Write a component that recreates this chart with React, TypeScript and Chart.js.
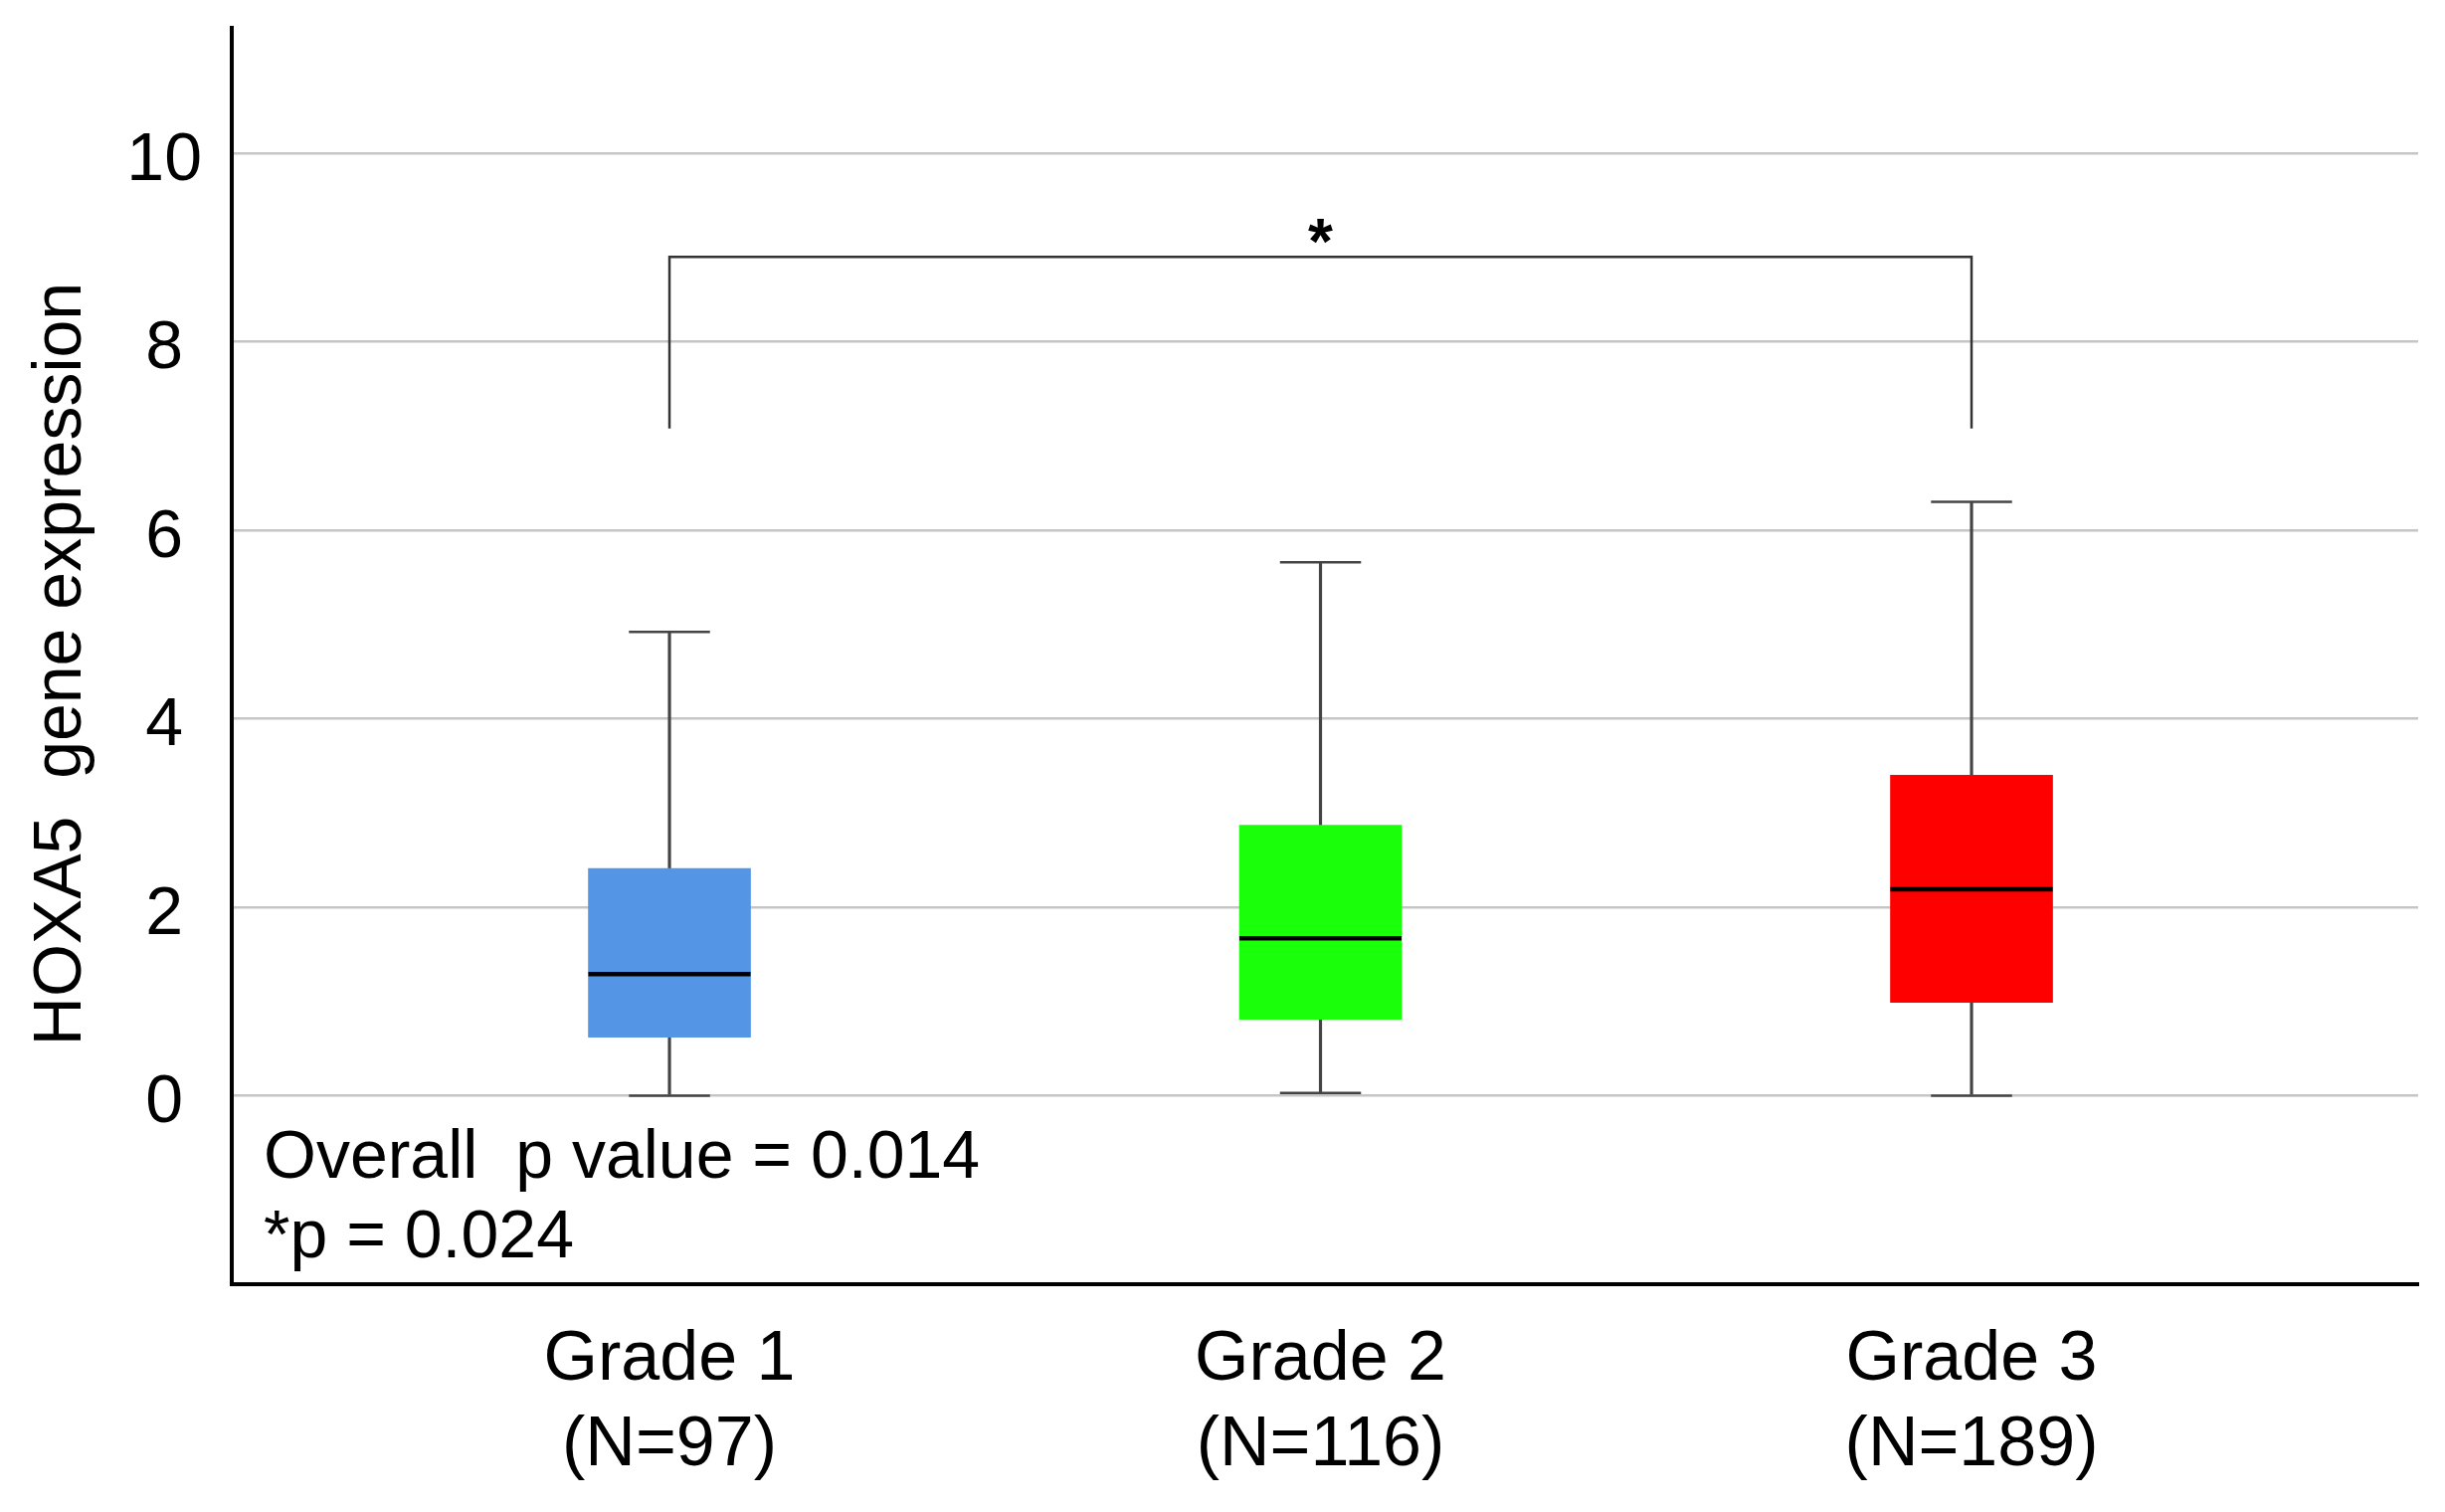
import React, { useEffect, useRef } from "react";
import { Chart, registerables } from "chart.js";

Chart.register(...registerables);

// ---- data ----
const categories = ["Grade 1", "Grade 2", "Grade 3"];
const sampleSizes = ["(N=97)", "(N=116)", "(N=189)"];
const positions = [1, 2, 3];
const mins = [0, 0.03, 0];
const q1s = [0.62, 0.81, 0.99];
const medians = [1.29, 1.67, 2.19];
const q3s = [2.41, 2.87, 3.4];
const maxs = [4.92, 5.66, 6.3];
const boxColors = ["#5595E5", "#1AFF0A", "#FF0000"];
const yTicks = [0, 2, 4, 6, 8, 10];
const bracket = { from: 1, to: 3, top: 8.9, bottom: 7.08, mark: "*" };
const annotationLines = ["Overall  p value = 0.014", "*p = 0.024"];
const yTitle = "HOXA5  gene expression";

const FONT = "'Liberation Sans', Arial, sans-serif";
const BOX_W = 163;

const extrasPlugin = {
  id: "boxExtras",
  afterDatasetsDraw(chart: any) {
    const { ctx, chartArea } = chart;
    const x = chart.scales.x;
    const y = chart.scales.y;
    ctx.save();
    positions.forEach((pos, i) => {
      const cx = x.getPixelForValue(pos);
      const half = BOX_W / 2;
      ctx.strokeStyle = "#444444";
      ctx.lineWidth = 2.5;
      [mins[i], maxs[i]].forEach((v) => {
        const py = y.getPixelForValue(v);
        ctx.beginPath();
        ctx.moveTo(cx - half / 2, py);
        ctx.lineTo(cx + half / 2, py);
        ctx.stroke();
      });
      ctx.strokeStyle = "#000000";
      ctx.lineWidth = 4.5;
      const my = y.getPixelForValue(medians[i]);
      ctx.beginPath();
      ctx.moveTo(cx - half, my);
      ctx.lineTo(cx + half, my);
      ctx.stroke();
    });

    // significance bracket
    const bx1 = x.getPixelForValue(bracket.from);
    const bx2 = x.getPixelForValue(bracket.to);
    const byTop = y.getPixelForValue(bracket.top);
    const byBot = y.getPixelForValue(bracket.bottom);
    ctx.strokeStyle = "#333333";
    ctx.lineWidth = 2.5;
    ctx.beginPath();
    ctx.moveTo(bx1, byBot);
    ctx.lineTo(bx1, byTop);
    ctx.lineTo(bx2, byTop);
    ctx.lineTo(bx2, byBot);
    ctx.stroke();
    ctx.fillStyle = "#000000";
    ctx.font = `bold 64px ${FONT}`;
    ctx.textAlign = "center";
    ctx.textBaseline = "alphabetic";
    ctx.fillText(bracket.mark, x.getPixelForValue((bracket.from + bracket.to) / 2), byTop + 7);

    // annotation text
    ctx.font = `68px ${FONT}`;
    ctx.textAlign = "left";
    ctx.fillText(annotationLines[0], chartArea.left + 32, chartArea.bottom - 107);
    ctx.fillText(annotationLines[1], chartArea.left + 32, chartArea.bottom - 27);

    // y axis title
    ctx.translate(62, (chartArea.top + chartArea.bottom) / 2 + 8);
    ctx.rotate(-Math.PI / 2);
    ctx.textAlign = "center";
    ctx.textBaseline = "middle";
    ctx.font = `68px ${FONT}`;
    ctx.fillText(yTitle, 0, 0);
    ctx.restore();
  },
};

export default function App() {
  const canvasRef = useRef<HTMLCanvasElement | null>(null);

  useEffect(() => {
    if (!canvasRef.current) return;
    const chart = new Chart(canvasRef.current, {
      type: "bar",
      data: {
        datasets: [
          {
            label: "box",
            data: positions.map((p, i) => ({ x: p, y: [q1s[i], q3s[i]] })) as any,
            backgroundColor: boxColors,
            borderWidth: 0,
            barThickness: BOX_W,
            grouped: false,
            order: 1,
          } as any,
          {
            label: "whisker",
            data: positions.map((p, i) => ({ x: p, y: [mins[i], maxs[i]] })) as any,
            backgroundColor: "#444444",
            borderWidth: 0,
            barThickness: 2.5,
            grouped: false,
            order: 2,
          } as any,
        ],
      },
      options: {
        animation: false,
        responsive: true,
        maintainAspectRatio: false,
        devicePixelRatio: 1,
        layout: { padding: { top: 28, right: 27, left: 0, bottom: 0 } },
        plugins: {
          legend: { display: false },
          tooltip: { enabled: false },
        },
        scales: {
          x: {
            type: "linear",
            offset: false,
            min: 0.3277,
            max: 3.686,
            grid: { display: false, drawTicks: false, offset: false },
            border: { display: true, color: "#000000", width: 4 },
            afterBuildTicks: (scale: any) => {
              scale.ticks = positions.map((v) => ({ value: v }));
            },
            afterFit: (scale: any) => {
              scale.height = 229;
              scale.paddingLeft = 0;
              scale.paddingRight = 0;
              scale.paddingTop = 0;
              scale.paddingBottom = 0;
            },
            ticks: {
              padding: 33,
              color: "#000000",
              maxRotation: 0,
              autoSkip: false,
              font: { family: FONT, size: 70, lineHeight: 1.235 },
              callback: (value: any) => {
                const i = positions.indexOf(Number(value));
                return i >= 0 ? [categories[i], sampleSizes[i]] : "";
              },
            },
          },
          y: {
            type: "linear",
            min: -2,
            max: 11.33,
            grid: { color: "#c6c6c6", lineWidth: 2.5, drawTicks: false },
            border: { display: true, color: "#000000", width: 4 },
            afterBuildTicks: (scale: any) => {
              scale.ticks = yTicks.map((v) => ({ value: v }));
            },
            afterFit: (scale: any) => {
              scale.width = 233;
              scale.paddingLeft = 0;
              scale.paddingRight = 0;
              scale.paddingTop = 0;
              scale.paddingBottom = 0;
            },
            ticks: {
              padding: 30,
              crossAlign: "center",
              labelOffset: 8,
              color: "#000000",
              font: { family: FONT, size: 68 },
              callback: (value: any) => String(value),
            },
            title: { display: false },
          },
        },
      } as any,
      plugins: [extrasPlugin],
    });
    return () => chart.destroy();
  }, []);

  return (
    <div style={{ position: "absolute", left: 0, top: 0, width: 2458, height: 1520, background: "#ffffff" }}>
      <canvas ref={canvasRef} />
    </div>
  );
}
